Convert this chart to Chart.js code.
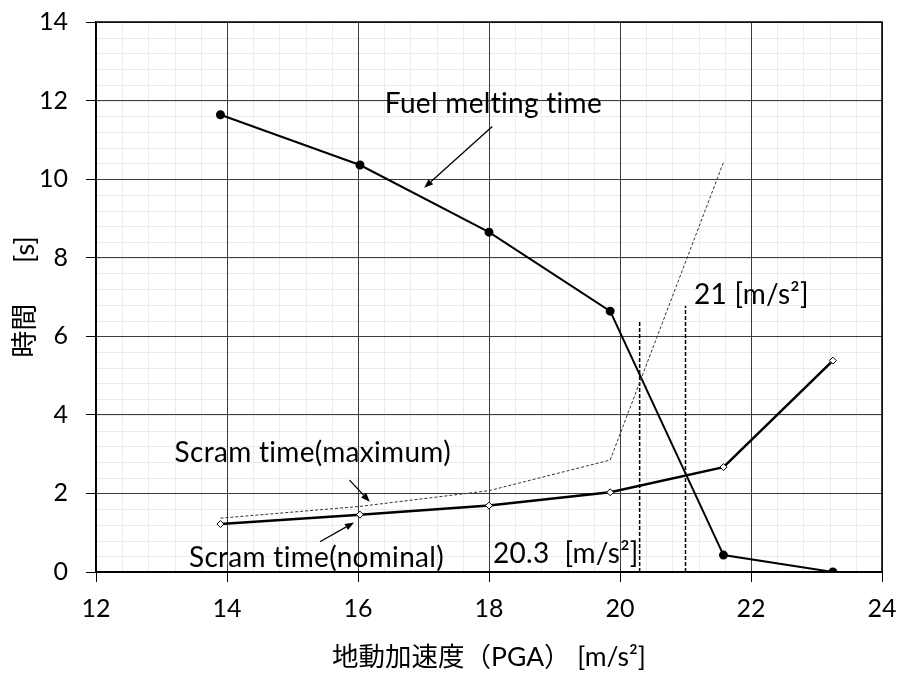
<!DOCTYPE html>
<html>
<head>
<meta charset="utf-8">
<script src="https://cdn.jsdelivr.net/npm/chart.js@4/dist/chart.umd.min.js"></script>
<style>
  html, body { margin: 0; padding: 0; background: #fff; }
  #wrap { width: 901px; height: 673px; }
</style>
</head>
<body>
<div id="wrap"><canvas id="c" width="901" height="673"></canvas></div>
<script>
// ---- data ----
const pgaValues = [13.9, 16.03, 18.0, 19.85, 21.58, 23.25];
const fuelMeltingTime = [11.64, 10.36, 8.65, 6.64, 0.43, 0.0];
const scramNominal = [1.22, 1.46, 1.69, 2.03, 2.67, 5.38];
const scramMaxPga = [13.9, 16.03, 18.0, 19.85, 21.58];
const scramMaximum = [1.37, 1.67, 2.07, 2.85, 10.43];
const thresholdPga = [20.3, 21.0];
const thresholdTop = [6.4, 6.78];
const xTickLabels = [12, 14, 16, 18, 20, 22, 24];
const yTickLabels = [0, 2, 4, 6, 8, 10, 12, 14];
const majorStep = 2;
const minorStep = 0.4;

const noteTexts = ['Fuel melting time', 'Scram time(maximum)', 'Scram time(nominal)', '20.3  [m/s²]', '21 [m/s²]'];
const noteX = [16.41, 13.2, 13.42, 18.06, 21.13];
const noteY = [11.69, 2.81, 0.14, 0.23, 6.83];
const arrowFromX = [18.05, 15.87, 15.42];
const arrowFromY = [11.34, 2.34, 0.77];
const arrowToX = [17.01, 16.18, 15.94];
const arrowToY = [9.78, 1.79, 1.26];

const FONT = "Lato, 'Noto Sans CJK JP', sans-serif";

function pts(xs, ys) { return xs.map((x, i) => ({ x: x, y: ys[i] })); }

const datasets = [
  {
    label: 'Scram time(maximum)',
    data: pts(scramMaxPga, scramMaximum),
    showLine: true, borderColor: '#333', borderWidth: 1, borderDash: [3, 2],
    pointRadius: 0, pointHoverRadius: 0
  },
  {
    label: 'Fuel melting time',
    data: pts(pgaValues, fuelMeltingTime),
    showLine: true, borderColor: '#000', borderWidth: 2,
    pointRadius: 3.5, pointBackgroundColor: '#000', pointBorderColor: '#000', pointStyle: 'circle'
  },
  {
    label: 'Scram time(nominal)',
    data: pts(pgaValues, scramNominal),
    showLine: true, borderColor: '#000', borderWidth: 2.5,
    pointRadius: 3.5, pointBackgroundColor: '#fff', pointBorderColor: '#000', pointBorderWidth: 1, pointStyle: 'rectRot'
  }
];
thresholdPga.forEach((x, i) => {
  datasets.push({
    label: 'threshold ' + x,
    data: [{ x: x, y: 0 }, { x: x, y: thresholdTop[i] }],
    showLine: true, borderColor: '#000', borderWidth: 1.5, borderDash: [4, 2],
    pointRadius: 0, pointHoverRadius: 0
  });
});

function minorValues(lo, hi) {
  const n = Math.round((hi - lo) / minorStep), out = [];
  for (let i = 1; i < n; i++) out.push(lo + i * minorStep);
  return out;
}

const minorGridPlugin = {
  id: 'minorGrid',
  beforeDraw(chart) {
    const ctx = chart.ctx, xs = chart.scales.x, ys = chart.scales.y, a = chart.chartArea;
    ctx.save();
    ctx.strokeStyle = '#ebebeb'; ctx.lineWidth = 1;
    minorValues(xs.min, xs.max).forEach(v => {
      const p = Math.round(xs.getPixelForValue(v)) + 0.5;
      ctx.beginPath(); ctx.moveTo(p, a.top); ctx.lineTo(p, a.bottom); ctx.stroke();
    });
    minorValues(ys.min, ys.max).forEach(v => {
      const p = Math.round(ys.getPixelForValue(v)) + 0.5;
      ctx.beginPath(); ctx.moveTo(a.left, p); ctx.lineTo(a.right, p); ctx.stroke();
    });
    ctx.restore();
  }
};

const notesPlugin = {
  id: 'notes',
  afterDatasetsDraw(chart) {
    const ctx = chart.ctx, xs = chart.scales.x, ys = chart.scales.y, a = chart.chartArea;
    ctx.save();
    ctx.strokeStyle = '#000'; ctx.lineWidth = 1.5;
    ctx.strokeRect(a.left, a.top, a.right - a.left, a.bottom - a.top);
    ctx.fillStyle = '#000';
    ctx.font = '28px ' + FONT;
    if ('letterSpacing' in ctx) ctx.letterSpacing = '0.3px';
    ctx.textAlign = 'left'; ctx.textBaseline = 'alphabetic';
    noteTexts.forEach((t, i) => {
      ctx.fillText(t, xs.getPixelForValue(noteX[i]), ys.getPixelForValue(noteY[i]));
    });
    if ('letterSpacing' in ctx) ctx.letterSpacing = '0px';
    ctx.lineWidth = 1.3; ctx.strokeStyle = '#000';
    arrowFromX.forEach((fx, i) => {
      const x1 = xs.getPixelForValue(fx), y1 = ys.getPixelForValue(arrowFromY[i]);
      const x2 = xs.getPixelForValue(arrowToX[i]), y2 = ys.getPixelForValue(arrowToY[i]);
      const ang = Math.atan2(y2 - y1, x2 - x1);
      const L = 9, W = 3.5;
      const bx = x2 - L * Math.cos(ang), by = y2 - L * Math.sin(ang);
      ctx.beginPath(); ctx.moveTo(x1, y1); ctx.lineTo(bx, by); ctx.stroke();
      ctx.beginPath();
      ctx.moveTo(x2, y2);
      ctx.lineTo(bx + W * Math.sin(ang), by - W * Math.cos(ang));
      ctx.lineTo(bx - W * Math.sin(ang), by + W * Math.cos(ang));
      ctx.closePath(); ctx.fill();
    });
    ctx.restore();
  }
};

function zeroPad(s) { s.paddingTop = 0; s.paddingBottom = 0; s.paddingLeft = 0; s.paddingRight = 0; }

new Chart(document.getElementById('c'), {
  type: 'scatter',
  data: { datasets: datasets },
  options: {
    responsive: false, animation: false,
    layout: { padding: { top: 22, right: 19, left: 0, bottom: 0 } },
    plugins: { legend: { display: false }, tooltip: { enabled: false } },
    scales: {
      x: {
        type: 'linear', min: xTickLabels[0], max: xTickLabels[xTickLabels.length - 1],
        afterFit: s => { s.height = 101; zeroPad(s); },
        ticks: {
          stepSize: majorStep, autoSkip: false, maxRotation: 0, padding: 12, color: '#000',
          font: { family: FONT, size: 25 },
          callback: v => xTickLabels.includes(v) ? String(v) : ''
        },
        grid: { color: '#3c3c3c', lineWidth: 1, tickLength: 10, tickColor: '#000' },
        border: { display: true, color: '#000', width: 1.5 },
        title: {
          display: true, text: '地動加速度（PGA） [m/s²]', color: '#000',
          font: { family: FONT, size: 26.5 }, padding: { top: 0, bottom: 0 }
        }
      },
      y: {
        type: 'linear', min: yTickLabels[0], max: yTickLabels[yTickLabels.length - 1],
        afterFit: s => { s.width = 96; zeroPad(s); },
        ticks: {
          stepSize: majorStep, autoSkip: false, padding: 18, color: '#000',
          font: { family: FONT, size: 25 },
          callback: v => yTickLabels.includes(v) ? String(v) : ''
        },
        grid: { color: '#3c3c3c', lineWidth: 1, tickLength: 10, tickColor: '#000' },
        border: { display: true, color: '#000', width: 1.5 },
        title: {
          display: true, text: '時間　  [s]', color: '#000',
          font: { family: FONT, size: 27 }, padding: { top: 9, bottom: 0 }
        }
      }
    }
  },
  plugins: [minorGridPlugin, notesPlugin]
});
</script>
</body>
</html>
